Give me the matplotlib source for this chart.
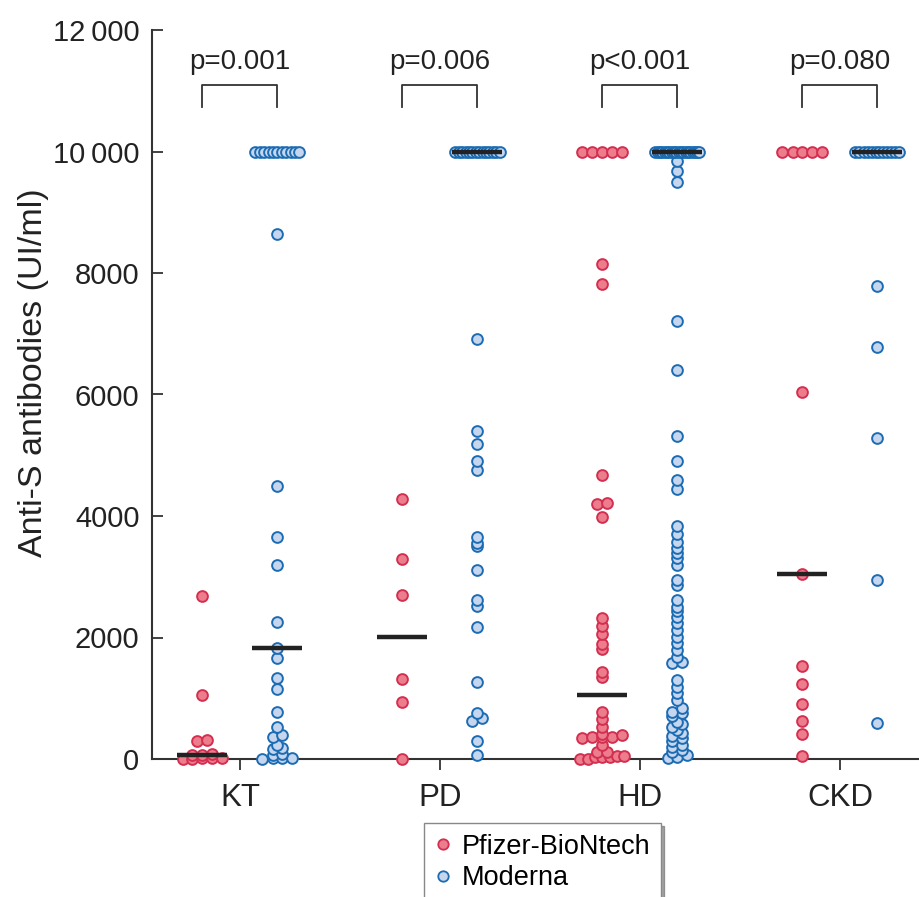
import numpy as np
import matplotlib
matplotlib.use("Agg")
import matplotlib.pyplot as plt

groups = ["KT", "PD", "HD", "CKD"]
vaccines = ["Pfizer-BioNtech", "Moderna"]

# anti-S values (UI/ml); 10000 = upper limit of assay
kt_pfizer = [2680, 1054, 320, 300, 90, 70, 60, 20, 15, 10, 5, 0]
kt_moderna = [10000] * 11 + [8640, 4490, 3650, 3200, 2250, 1830, 1670, 1330, 1150,
                             780, 530, 400, 370, 230, 180, 160, 85, 70, 20, 15, 10, 5]
pd_pfizer = [4276, 3300, 2707, 1313, 943, 0]
pd_moderna = [10000] * 14 + [6916, 5400, 5190, 4900, 4750, 3660, 3560, 3500, 3110, 2620,
                             2520, 2170, 1260, 760, 680, 630, 300, 70]
hd_pfizer = [10000] * 5 + [8148, 7825, 4667, 4209, 4190, 3987, 2323, 2189, 2054, 1885,
                           1805, 1434, 1347, 774, 659, 527, 412, 400, 362, 360, 355, 350,
                           231, 115, 110, 50, 45, 40, 35, 30, 0, 0]
hd_moderna = [10000] * 20 + [9850, 9685, 9500, 7210, 6407, 5310, 4910, 4600, 4450, 3840,
                             3700, 3580, 3470, 3390, 3310, 3195, 2950, 2870, 2620, 2510,
                             2430, 2330, 2235, 2125, 2015, 1905, 1795, 1685, 1600, 1580,
                             1300, 1190, 1080, 970, 835, 780, 750, 700, 615, 580, 530,
                             470, 420, 380, 340, 290, 230, 190, 150, 110, 65, 40, 10]
ckd_pfizer = [10000] * 5 + [6040, 3044, 1535, 1232, 909, 620, 404, 47]
ckd_moderna = [10000] * 12 + [7778, 6781, 5286, 2950, 586]

medians_pfizer = [60, 2010, 1050, 3044]
medians_moderna = [1830, 10000, 10000, 10000]
p_values = ["p=0.001", "p=0.006", "p<0.001", "p=0.080"]

pfizer = [kt_pfizer, pd_pfizer, hd_pfizer, ckd_pfizer]
moderna = [kt_moderna, pd_moderna, hd_moderna, ckd_moderna]

plt.rcParams['font.family'] = ['Liberation Sans', 'DejaVu Sans']

fig = plt.figure(figsize=(9.2, 8.97), dpi=100)
ax = fig.add_axes([152 / 920, 1 - 759 / 897, 1 - 152 / 920, (759 - 30) / 897])
ax.set_xlim(-0.44, 3.4)
ax.set_ylim(0, 12000)

px_per_val = 607 / 10000.0  # vertical pixels per unit
px_per_x = 200.0           # horizontal pixels per x unit


def spread(vals, center):
    # simple scatter-dot layout: points on (almost) the same row are spread sideways
    v = np.sort(np.asarray(vals, dtype=float))
    xs = np.zeros(len(v))
    i = 0
    while i < len(v):
        j = i
        while j + 1 < len(v) and (v[j + 1] - v[i]) * px_per_val < 3.5:
            j += 1
        n = j - i + 1
        if n > 1:
            step = min(10.0, 44.0 / (n - 1))
            offs = (np.arange(n) - (n - 1) / 2.0) * step
            xs[i:j + 1] = offs / px_per_x
        i = j + 1
    return center + xs, v


styles = [dict(fc='#ec7d8d', ec='#d42e50'), dict(fc='#c5d6ee', ec='#1c6cb4')]
off = [-0.1875, 0.1875]

for g in range(len(groups)):
    for k, data in enumerate([pfizer[g], moderna[g]]):
        xs, ys = spread(data, g + off[k])
        ax.scatter(xs, ys, s=60, facecolor=styles[k]['fc'], edgecolor=styles[k]['ec'],
                   linewidth=1.4, zorder=3, clip_on=False)
    for k, med in enumerate([medians_pfizer[g], medians_moderna[g]]):
        ax.plot([g + off[k] - 0.125, g + off[k] + 0.125], [med, med], color='#222222',
                lw=3.2, zorder=4, solid_capstyle='butt')
    # significance bracket
    x0, x1 = g + off[0], g + off[1]
    ax.plot([x0, x0, x1, x1], [10740, 11100, 11100, 10740], color='#333333', lw=1.3,
            clip_on=False)
    ax.text(g, 11260, p_values[g], ha='center', va='bottom', fontsize=20, color='#222222')

ax.set_xticks(range(len(groups)))
ax.set_xticklabels(groups)
ax.set_yticks([0, 2000, 4000, 6000, 8000, 10000, 12000])
ax.set_yticklabels(["0", "2000", "4000", "6000", "8000", "10\u2009000", "12\u2009000"])
ax.tick_params(axis='y', direction='in', length=8, width=1.3, labelsize=21, pad=9,
               colors='#333333', labelcolor='#222222')
ax.tick_params(axis='x', direction='out', length=8, width=1.3, labelsize=22.5, pad=9,
               colors='#333333', labelcolor='#222222')
for s in ['top', 'right']:
    ax.spines[s].set_visible(False)
for s in ['left', 'bottom']:
    ax.spines[s].set_linewidth(1.5)
    ax.spines[s].set_color('#333333')
ax.set_ylabel("Anti-S antibodies (UI/ml)", fontsize=24.5, color='#222222')
ax.yaxis.set_label_coords(-0.134, 0.53)

handles = [plt.Line2D([], [], ls='none', marker='o', ms=7.5, mfc=styles[k]['fc'],
                      mec=styles[k]['ec'], mew=1.3) for k in range(2)]
fig.legend(handles, vaccines, loc='upper left', bbox_to_anchor=(424 / 920, 1 - 823 / 897),
           fontsize=19.5, frameon=True, fancybox=False, shadow=True, handlelength=0.6,
           handletextpad=0.4, borderpad=0.4, labelspacing=0.2, edgecolor='#888888',
           borderaxespad=0)

fig.savefig("out.png", dpi=100)
